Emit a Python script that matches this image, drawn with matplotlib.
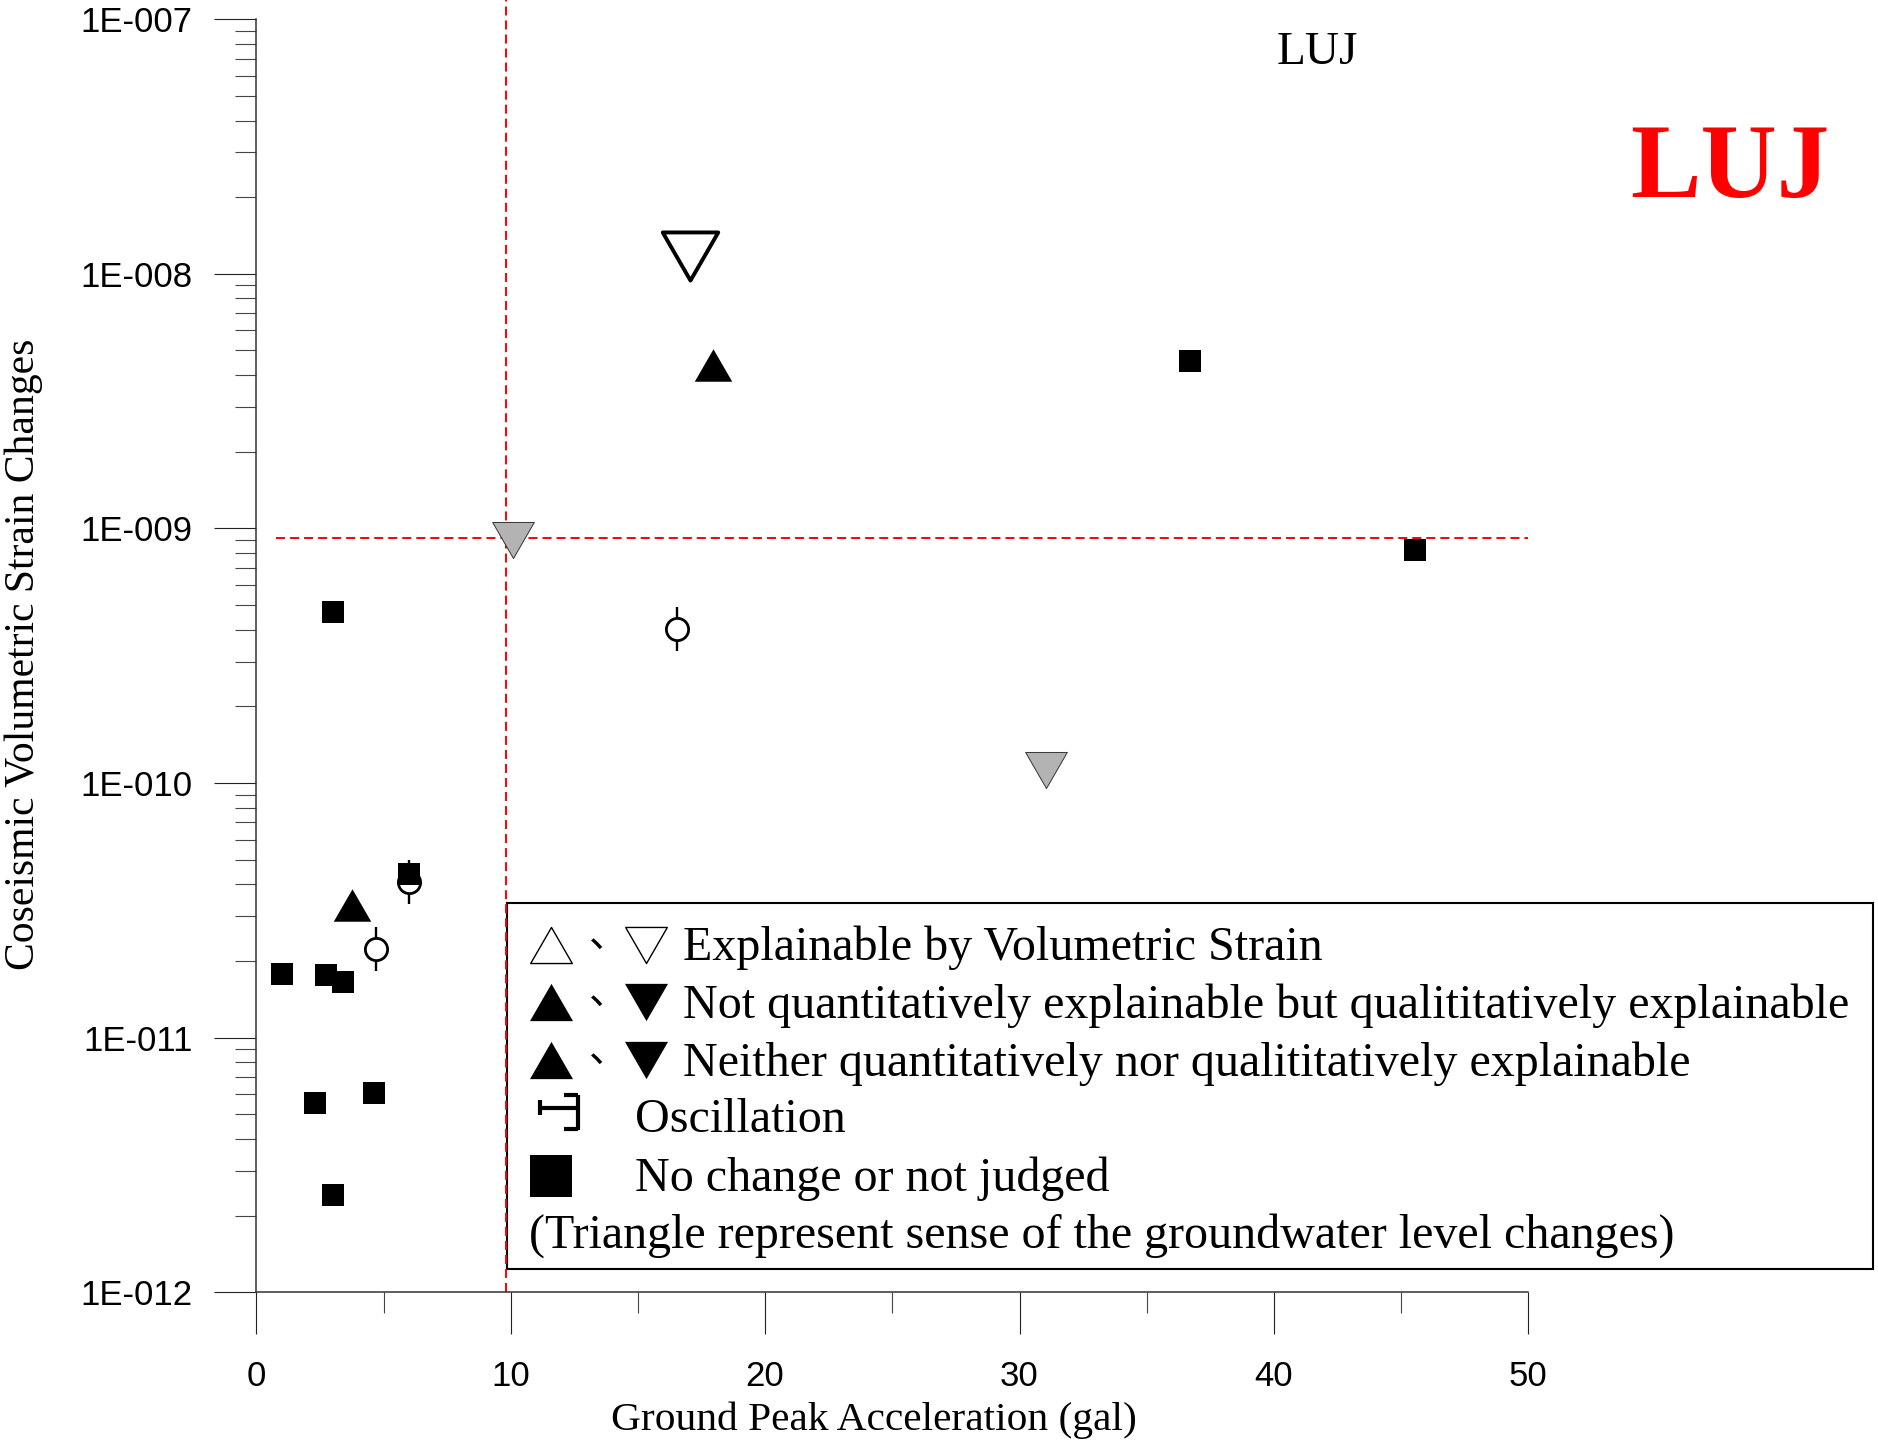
import matplotlib
matplotlib.use('Agg')
import matplotlib.pyplot as plt
import numpy as np
from matplotlib.path import Path
from matplotlib.markers import MarkerStyle
from matplotlib.patches import Rectangle

# ground peak acceleration (gal) vs coseismic volumetric strain change, station LUJ
nochange_x = [36.71, 45.56, 3.01, 6.01, 1.02, 2.72, 3.42, 2.31, 4.61, 3.01]
nochange_y = [4.55e-9, 8.24e-10, 4.70e-10, 4.39e-11, 1.78e-11, 1.76e-11, 1.66e-11, 5.52e-12, 6.08e-12, 2.40e-12]

qual_up_x = [17.94, 3.76]
qual_up_y = [4.38e-9, 3.31e-11]

neither_down_x = [10.08, 31.05]
neither_down_y = [8.98e-10, 1.13e-10]

explain_down_x = [17.03]
explain_down_y = [1.17e-8]

osc_x = [16.54, 6.01, 4.71]
osc_y = [4.02e-10, 4.10e-11, 2.22e-11]

# threshold lines
pga_limit = 9.82
strain_limit = 9.14e-10
strain_line_x = [0.78, 50]

x_ticks = [0, 10, 20, 30, 40, 50]
x_minor = [5, 15, 25, 35, 45]
y_ticks = [1e-12, 1e-11, 1e-10, 1e-9, 1e-8, 1e-7]
y_ticklabels = ['1E-012', '1E-011', '1E-010', '1E-009', '1E-008', '1E-007']

legend_texts = ['Explainable by Volumetric Strain',
                'Not quantitatively explainable but qualititatively explainable',
                'Neither quantitatively nor qualititatively explainable',
                'Oscillation',
                'No change or not judged',
                '(Triangle represent sense of the groundwater level changes)']

serif = 'Liberation Serif'
sans = 'Liberation Sans'

# equilateral triangles, bbox-centred
tri_up = MarkerStyle(Path([(-1, -0.866), (1, -0.866), (0, 0.866), (-1, -0.866)], closed=True), joinstyle='miter')
tri_down = MarkerStyle(Path([(-1, 0.866), (1, 0.866), (0, -0.866), (-1, 0.866)], closed=True), joinstyle='miter')

# oscillation symbol for the legend
M, L = Path.MOVETO, Path.LINETO
osc_sym = Path([(0.92, 0.84), (0.92, -0.88),
                (0.24, 0.81), (0.92, 0.81),
                (0.24, -0.85), (0.92, -0.85),
                (-0.92, 0.22), (0.92, 0.22),
                (-0.92, 0.58), (-0.92, -0.13)],
               [M, L, M, L, M, L, M, L, M, L])

plt.rcParams['lines.scale_dashes'] = False

fig = plt.figure(figsize=(18.78, 14.40), dpi=100)
ax = fig.add_axes([0.13648, 0.10257, 0.67732, 0.8841])
lax = fig.add_axes([0, 0, 1, 1])
lax.set_xlim(0, 1878)
lax.set_ylim(1440, 0)
lax.axis('off')
lax.set_zorder(0)
ax.set_zorder(1)
ax.patch.set_visible(False)

ax.set_yscale('log')
ax.set_xlim(0, 50)
ax.set_ylim(1e-12, 1e-7)

# threshold lines
ax.plot([pga_limit, pga_limit], [1e-12, 10 ** -6.92], color='red', lw=1.4,
        dashes=(6.5, 3.6), clip_on=False, zorder=1)
ax.plot(strain_line_x, [strain_limit, strain_limit], color='red', lw=1.4,
        dashes=(6.5, 3.6), clip_on=False, zorder=1)

# oscillation: vertical bar + open circle
ax.plot(osc_x, osc_y, ls='none', marker='|', ms=31.4, mew=1.7, color='black', zorder=2)
ax.plot(osc_x, osc_y, ls='none', marker='o', ms=16, mew=2, mfc='white', mec='black', zorder=3)

ax.plot(nochange_x, nochange_y, ls='none', marker='s', ms=15.8, mew=0, color='black', zorder=4)
ax.plot(qual_up_x, qual_up_y, ls='none', marker=tri_up, ms=27, mew=0, color='black', zorder=4)
ax.plot(neither_down_x, neither_down_y, ls='none', marker=tri_down, ms=30, mew=0.7,
        mfc='#b3b3b3', mec='#333333', zorder=4)
ax.plot(explain_down_x, explain_down_y, ls='none', marker=tri_down, ms=40, mew=2.8,
        mfc='white', mec='black', zorder=4)

ax.set_xticks(x_ticks)
ax.set_xticklabels([str(v) for v in x_ticks])
ax.set_xticks(x_minor, minor=True)
ax.set_yticks(y_ticks)
ax.set_yticklabels(y_ticklabels)
ax.yaxis.set_minor_locator(matplotlib.ticker.LogLocator(base=10, subs=np.arange(2, 10)))
ax.yaxis.set_minor_formatter(matplotlib.ticker.NullFormatter())

ax.tick_params(axis='both', which='major', direction='out', length=30, width=0.8, color='#222222')
ax.tick_params(axis='both', which='minor', direction='out', length=15, width=0.8, color='#444444')
ax.tick_params(axis='y', which='major', pad=16)
ax.tick_params(axis='x', which='major', pad=19)
for lab in ax.get_xticklabels() + ax.get_yticklabels():
    lab.set_fontfamily(sans)
    lab.set_fontsize(25)

for s in ['top', 'right']:
    ax.spines[s].set_visible(False)
for s in ['left', 'bottom']:
    ax.spines[s].set_color('#333333')
    ax.spines[s].set_linewidth(1.1)

# axis titles and station names
lax.text(873.7, 1420, 'Ground Peak Acceleration (gal)', family=serif, fontsize=29.8,
         ha='center', va='center')
lax.text(24, 654.5, 'Coseismic Volumetric Strain Changes', family=serif, fontsize=30,
         rotation=90, ha='center', va='center')
lax.text(1317, 64, 'LUJ', family=serif, fontsize=34, ha='center', va='baseline')
lax.text(1729.5, 197.3, 'LUJ', family=serif, fontsize=76, fontweight='bold', color='red',
         ha='center', va='baseline')

# legend box
lax.add_patch(Rectangle((506.6, 902.7), 1366.4, 366.3, facecolor='white',
                        edgecolor='black', lw=1.5))
row_y = [944.7, 1002.3, 1060.3, 1116.5, 1175.5, 1232.4]
text_x = [683, 683, 683, 635, 635, 529]
for t, tx, ty in zip(legend_texts, text_x, row_y):
    lax.text(tx, ty + 3, t, family=serif, fontsize=34.6, ha='left', va='center')

lax.plot(550.8, row_y[0], marker=tri_up, ms=30, mew=1, mfc='white', mec='black')
lax.plot(646.3, row_y[0], marker=tri_down, ms=30, mew=1, mfc='white', mec='black')
for ry in row_y[1:3]:
    lax.plot(550.8, ry, marker=tri_up, ms=31, mew=0, color='black')
    lax.plot(646.3, ry, marker=tri_down, ms=31, mew=0, color='black')
for ry in row_y[:3]:
    lax.text(589, ry + 2, '、', family=['Noto Sans CJK JP'], fontsize=28,
             ha='left', va='baseline')
lax.plot(558.8, 1111.8, marker=osc_sym, ms=27, mew=3, mfc='none', mec='black')
lax.plot(550.8, 1175.5, marker='s', ms=30.5, mew=0, color='black')

fig.savefig('out.png', dpi=100)
